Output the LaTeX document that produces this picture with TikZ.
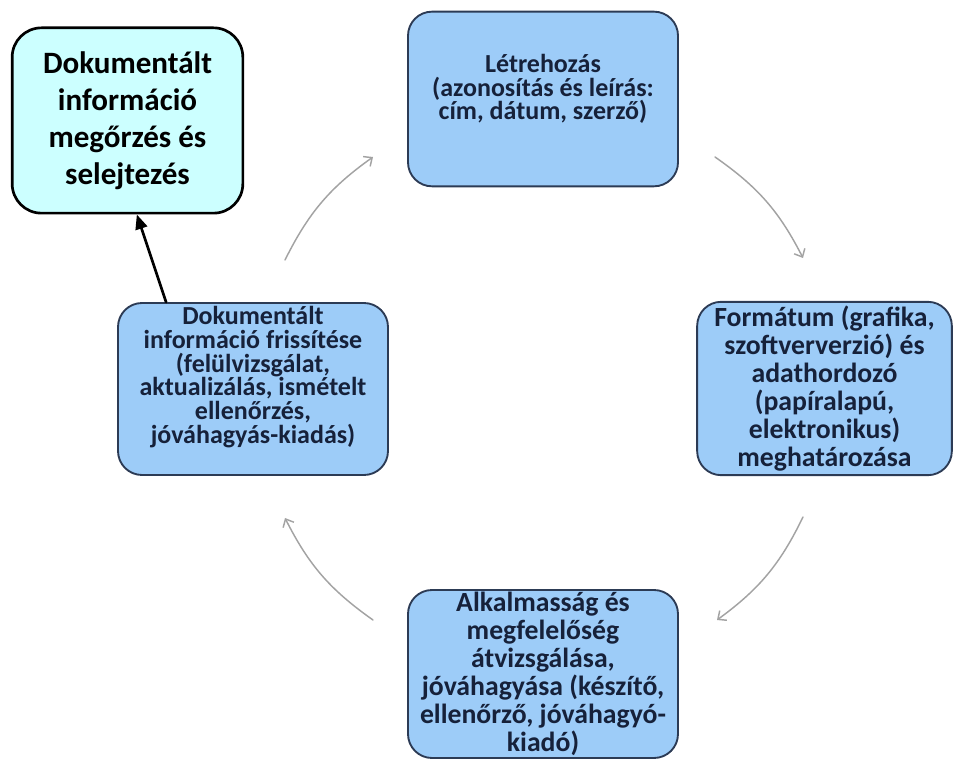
\documentclass[tikz,border=0pt]{standalone}
\usepackage{fontspec}
\setmainfont{Carlito}
\usetikzlibrary{arrows.meta}
\definecolor{phasefill}{HTML}{9DCCF8}
\definecolor{phaseline}{HTML}{2C3B55}
\definecolor{phasetext}{HTML}{16213A}
\definecolor{keepfill}{HTML}{CCFFFF}
\definecolor{cyclegray}{HTML}{A3A3A3}
\tikzset{
  phase/.style={draw=phaseline, line width=1.4pt, fill=phasefill, rounded corners=18pt,
    align=center, text=phasetext, inner sep=0pt,
    font=\fontsize{19.5}{17.8}\selectfont\bfseries},
  loose/.style={font=\fontsize{20.8}{21}\selectfont\bfseries},
  keepbox/.style={draw=black, line width=2pt, fill=keepfill, rounded corners=22pt,
    align=center, inner sep=0pt,
    font=\fontsize{23.3}{27.8}\selectfont\bfseries},
  cycle/.style={draw=cyclegray, line width=1.1pt, -{Straight Barb[length=5pt,width=9pt]}},
  toarchive/.style={draw=black, line width=2pt, -{Triangle[length=11pt,width=9pt]}}
}
\begin{document}
\begin{tikzpicture}[x=0.75pt,y=0.75pt,line join=round,line cap=round]
\useasboundingbox (0,0) rectangle (956,760);
% phases of the cycle
\node[phase, minimum width=202.5pt, minimum height=131pt] (create) at (543,661)
  {Létrehozás\\(azonosítás és leírás:\\cím, dátum, szerző)\\[0pt]};
\node[phase, loose, minimum width=191pt, minimum height=130pt] (format) at (824.5,371.5)
  {Formátum (grafika,\\szoftververzió) és\\adathordozó\\(papíralapú,\\elektronikus)\\meghatározása};
\node[phase, loose, minimum width=202.5pt, minimum height=126pt] (approve) at (543,86)
  {Alkalmasság és\\megfelelőség\\átvizsgálása,\\jóváhagyása (készítő,\\ellenőrző, jóváhagyó-\\kiadó)};
\node[phase, minimum width=202.5pt, minimum height=129pt] (update) at (253,371)
  {Dokumentált\\információ frissítése\\(felülvizsgálat,\\aktualizálás, ismételt\\ellenőrzés,\\jóváhagyás-kiadás)\\[3.5pt]};
\node[keepbox, minimum width=173pt, minimum height=139pt] (keep) at (127.5,639.5)
  {Dokumentált\\információ\\megőrzés és\\selejtezés};
% free ends of the gray arrows
\path
(285,500) coordinate (a1) (373,603) coordinate (b1)
(715,603) coordinate (a2) (803,502) coordinate (b2)
(803,243) coordinate (a3) (717,140) coordinate (b3)
(373,140) coordinate (a4) (285,242) coordinate (b4)
;
\foreach \s/\t in {a1/b1,a2/b2,a3/b3,a4/b4}
\draw[cycle] (\s) to[bend left=14] (\t);
\draw[toarchive] (update.135) -- ([xshift=7pt]keep.south);
\end{tikzpicture}
\end{document}
